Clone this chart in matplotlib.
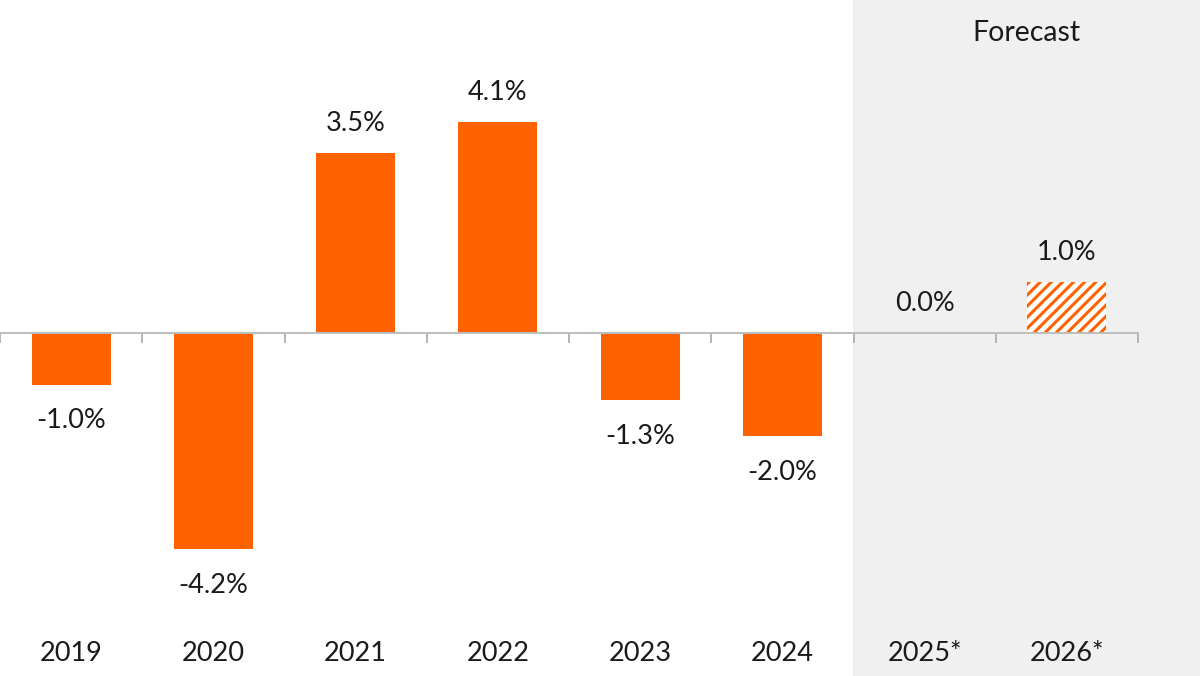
import matplotlib.pyplot as plt
import matplotlib.patches as mpatches

years = ['2019', '2020', '2021', '2022', '2023', '2024', '2025*', '2026*']
growth = [-1.0, -4.2, 3.5, 4.1, -1.3, -2.0, 0.0, 1.0]
forecast = [False, False, False, False, False, False, True, True]

orange = '#ff6200'
plt.rcParams['font.family'] = ['Lato', 'DejaVu Sans']
plt.rcParams['hatch.linewidth'] = 2.2
plt.rcParams['hatch.color'] = orange

fig = plt.figure(figsize=(12, 6.76), dpi=100)

# grey forecast background (figure coordinates, reaches the right edge)
fig.patches.append(mpatches.Rectangle((853 / 1200, 0), 1 - 853 / 1200, 1,
                                      transform=fig.transFigure,
                                      facecolor='#f0f0f0', edgecolor='none', zorder=0))

ax = fig.add_axes([0, 0, 1138 / 1200, 1])
ax.set_zorder(1)
ax.patch.set_alpha(0)

txt = '#1a1a1a'
for i, (v, f) in enumerate(zip(growth, forecast)):
    if f:
        if v != 0:
            ax.bar(i, v, width=0.555, facecolor='white', edgecolor=orange,
                   hatch='///', linewidth=0, zorder=2)
    else:
        ax.bar(i, v, width=0.555, color=orange, linewidth=0, zorder=2)

    off = 21 if v >= 0 else -26
    ax.annotate(f'{v:.1f}%', (i, v), xytext=(0, off), textcoords='offset points',
                ha='center', va='center', fontsize=19.5, color=txt)

# category labels along the bottom
for i, yr in enumerate(years):
    ax.text(i, -6.23, yr, ha='center', va='center', fontsize=19.5, color=txt)

ax.text(6.5 + (1200 - 1138) / 142.25 / 2, 5.83, 'Forecast', ha='center', va='center',
        fontsize=20.5, color=txt)

ax.set_xlim(-0.5, 7.5)
ax.set_ylim(-(676 - 333) / 51.5, 333 / 51.5)

for s in ['top', 'right', 'left']:
    ax.spines[s].set_visible(False)
ax.spines['bottom'].set_position(('data', 0))
ax.spines['bottom'].set_color('#bdbdbd')
ax.spines['bottom'].set_linewidth(1.4)
ax.spines['bottom'].set_zorder(3)

ax.set_xticks([i - 0.5 for i in range(len(years) + 1)])
ax.set_xticklabels([])
ax.tick_params(axis='x', direction='out', length=7, width=1.2, color='#a8a8a8')
ax.set_yticks([])

fig.savefig('out.png', dpi=100)
